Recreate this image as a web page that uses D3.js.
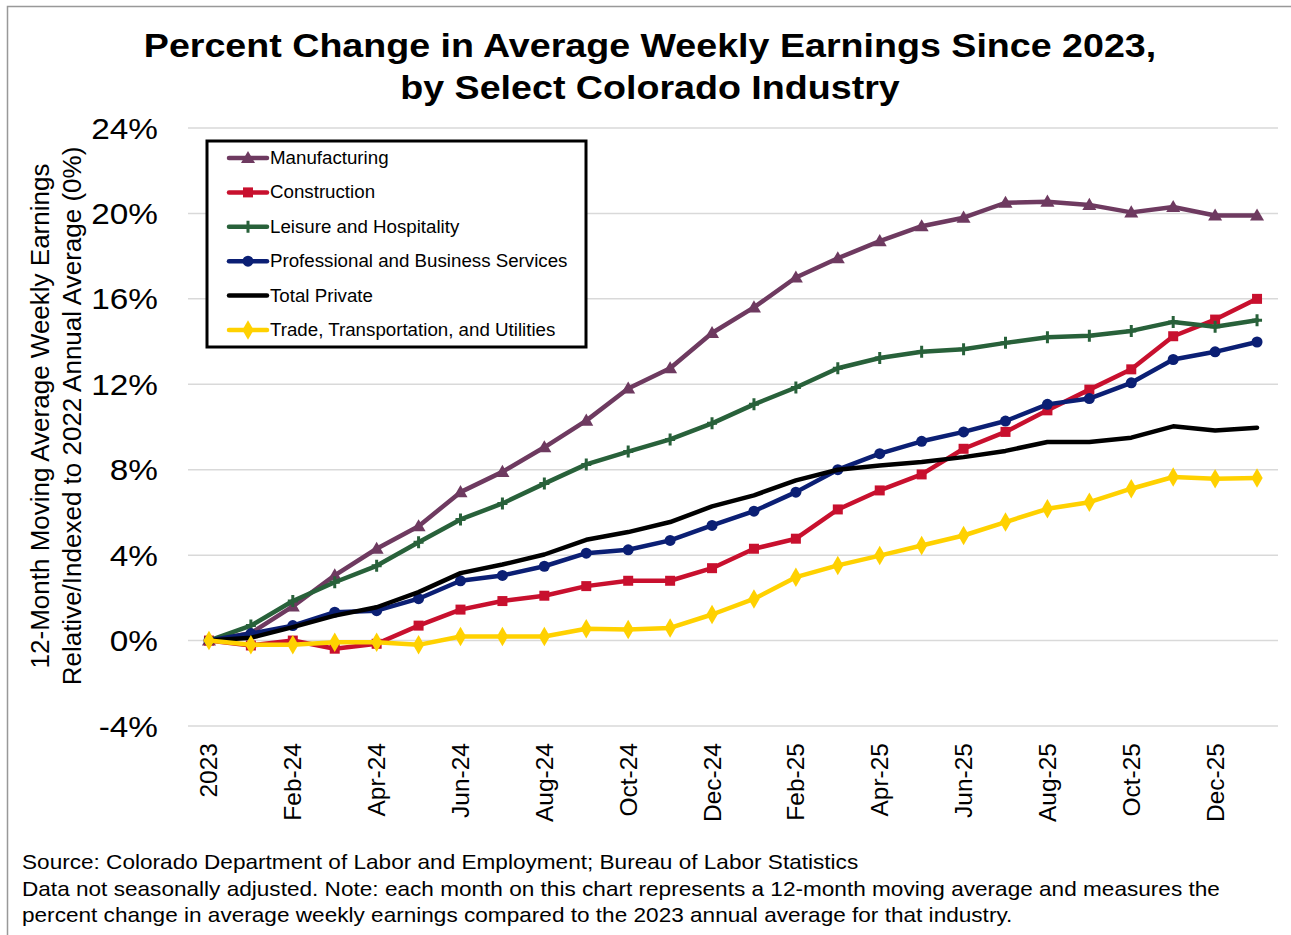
<!DOCTYPE html>
<html>
<head>
<meta charset="utf-8">
<script src="https://cdn.jsdelivr.net/npm/d3@7"></script>
<style>
  body { margin: 0; background: #fff; }
  text { font-family: "Liberation Sans", Arial, sans-serif; fill: #000; }
</style>
</head>
<body>
<svg id="chart" width="1291" height="935"></svg>
<script>
// categories: 2023 annual average, then monthly Jan-24 .. Jan-26
var months = ["2023",
  "Jan-24","Feb-24","Mar-24","Apr-24","May-24","Jun-24","Jul-24","Aug-24","Sep-24","Oct-24","Nov-24","Dec-24",
  "Jan-25","Feb-25","Mar-25","Apr-25","May-25","Jun-25","Jul-25","Aug-25","Sep-25","Oct-25","Nov-25","Dec-25",
  "Jan-26"];
var yTicks = [-4, 0, 4, 8, 12, 16, 20, 24];

// percent change per series
var manufacturing = [0, 0.35, 1.6, 3.05, 4.3, 5.35, 6.95, 7.9, 9.05, 10.3, 11.8, 12.75, 14.4,
  15.6, 17.0, 17.9, 18.7, 19.4, 19.8, 20.5, 20.55, 20.4, 20.05, 20.3, 19.9, 19.9];
var construction = [0, -0.23, 0.0, -0.38, -0.15, 0.7, 1.45, 1.85, 2.1, 2.55, 2.8, 2.8, 3.39,
  4.3, 4.77, 6.14, 7.03, 7.78, 8.98, 9.77, 10.78, 11.75, 12.7, 14.25, 15.03, 16.0];
var leisure = [0, 0.7, 1.85, 2.73, 3.5, 4.6, 5.67, 6.42, 7.35, 8.25, 8.85, 9.42, 10.17,
  11.06, 11.85, 12.75, 13.23, 13.52, 13.64, 13.94, 14.2, 14.27, 14.5, 14.92, 14.69, 15.0];
var professional = [0, 0.33, 0.7, 1.33, 1.4, 1.96, 2.8, 3.05, 3.48, 4.09, 4.25, 4.69, 5.39,
  6.06, 6.95, 8.0, 8.75, 9.33, 9.77, 10.28, 11.06, 11.33, 12.07, 13.16, 13.52, 13.98];
var totalPrivate = [0, 0.13, 0.63, 1.17, 1.56, 2.27, 3.16, 3.56, 4.03, 4.72, 5.08, 5.55, 6.28,
  6.8, 7.5, 8.0, 8.2, 8.36, 8.59, 8.88, 9.3, 9.3, 9.5, 10.03, 9.84, 9.97];
var trade = [0, -0.2, -0.2, -0.08, -0.08, -0.2, 0.19, 0.19, 0.19, 0.55, 0.52, 0.59, 1.22,
  1.95, 2.97, 3.52, 3.98, 4.45, 4.92, 5.55, 6.17, 6.48, 7.11, 7.66, 7.58, 7.61];

var seriesNames = ["Manufacturing", "Construction", "Leisure and Hospitality",
  "Professional and Business Services", "Total Private", "Trade, Transportation, and Utilities"];
var seriesValues = [manufacturing, construction, leisure, professional, totalPrivate, trade];
var seriesColors = ["#6e3a60", "#c8102e", "#28613a", "#0b1f74", "#000000", "#ffd100"];
var seriesMarkers = ["triangle", "square", "plus", "circle", "none", "diamond"];

var svg = d3.select("#chart");

// the original text is a bit wider than plain Arial, so stretch it sideways
function wideText(parent, tx, ty, sx, size, anchor, str, weight) {
  return parent.append("text")
    .attr("transform", "translate(" + tx + "," + ty + ") scale(" + sx + ",1)")
    .attr("text-anchor", anchor || "start")
    .style("font-size", size + "px")
    .style("font-weight", weight || "normal")
    .text(str);
}

// thin frame of the picture
svg.append("path")
  .attr("d", "M7.5,935 V6.5 H1291")
  .attr("fill", "none").attr("stroke", "#999").attr("stroke-width", 1.5);

var plot = {left: 188, right: 1278, top: 128, bottom: 726};

var x = d3.scalePoint().domain(months).range([plot.left, plot.right]).padding(0.5);
var y = d3.scaleLinear().domain([-4, 24]).range([plot.bottom, plot.top]);

// title
wideText(svg, 650, 57, 1.14, 33, "middle", "Percent Change in Average Weekly Earnings Since 2023,", "bold");
wideText(svg, 650, 99, 1.14, 33, "middle", "by Select Colorado Industry", "bold");

// gridlines
svg.append("g").selectAll("line").data(yTicks).enter().append("line")
  .attr("x1", plot.left).attr("x2", plot.right)
  .attr("y1", d => y(d)).attr("y2", d => y(d))
  .attr("stroke", "#d9d9d9").attr("stroke-width", 1.5);

// y tick labels
var yl = svg.append("g");
yTicks.forEach(function(t) {
  wideText(yl, 158, y(t) + 10.5, 1.15, 29, "end", t + "%");
});

// y axis title
var yt = svg.append("g").attr("transform", "translate(57,416) rotate(-90)");
yt.append("text").attr("x", 0).attr("y", -8).attr("text-anchor", "middle")
  .style("font-size", "26px").text("12-Month Moving Average Weekly Earnings");
yt.append("text").attr("x", 0).attr("y", 24).attr("text-anchor", "middle")
  .style("font-size", "26px").text("Relative/Indexed to 2022 Annual Average (0%)");

// x tick labels, every other month
svg.append("g").selectAll("text").data(months.filter((d, i) => i % 2 == 0 && i < 25)).enter()
  .append("text")
  .attr("transform", d => "translate(" + (x(d) + 8.5) + ",743) rotate(-90)")
  .attr("text-anchor", "end")
  .style("font-size", "24.5px")
  .text(d => d);

var symbolFor = {
  triangle: d3.symbol().type(d3.symbolTriangle).size(85),
  square: d3.symbol().type(d3.symbolSquare).size(100),
  circle: d3.symbol().type(d3.symbolCircle).size(95),
  diamond: d3.symbol().type(d3.symbolDiamond).size(110)
};

function drawMarker(g, kind, color, cx, cy) {
  if (kind == "none") return;
  if (kind == "plus") {
    g.append("path")
      .attr("d", "M" + (cx - 5) + "," + cy + "H" + (cx + 5) + "M" + cx + "," + (cy - 6) + "V" + (cy + 6))
      .attr("stroke", color).attr("stroke-width", 3).attr("fill", "none");
    return;
  }
  g.append("path").attr("d", symbolFor[kind]())
    .attr("transform", "translate(" + cx + "," + (kind == "triangle" ? cy + 1 : cy) + ")")
    .attr("fill", color);
}

var line = d3.line().x((d, i) => x(months[i])).y(d => y(d));

seriesValues.forEach(function(vals, s) {
  var g = svg.append("g");
  g.append("path").datum(vals).attr("d", line)
    .attr("fill", "none").attr("stroke", seriesColors[s])
    .attr("stroke-width", 4.5).attr("stroke-linejoin", "round").attr("stroke-linecap", "round");
  vals.forEach(function(v, i) {
    drawMarker(g, seriesMarkers[s], seriesColors[s], x(months[i]), y(v));
  });
});

// legend
var lg = svg.append("g");
lg.append("rect").attr("x", 207).attr("y", 141).attr("width", 379).attr("height", 206)
  .attr("fill", "#fff").attr("stroke", "#000").attr("stroke-width", 3);
seriesNames.forEach(function(name, s) {
  var cy = 158 + s * 34.4;
  lg.append("line").attr("x1", 229).attr("x2", 267).attr("y1", cy).attr("y2", cy)
    .attr("stroke", seriesColors[s]).attr("stroke-width", 4.5).attr("stroke-linecap", "round");
  drawMarker(lg, seriesMarkers[s], seriesColors[s], 248, cy);
  wideText(lg, 270, cy + 6, 1.07, 17.5, "start", name);
});

// footer
var notes = ["Source: Colorado Department of Labor and Employment; Bureau of Labor Statistics",
  "Data not seasonally adjusted. Note: each month on this chart represents a 12-month moving average and measures the",
  "percent change in average weekly earnings compared to the 2023 annual average for that industry."];
var ft = svg.append("g");
notes.forEach(function(n, i) {
  wideText(ft, 22, 869 + i * 26.5, 1.13, 20, "start", n);
});
</script>
</body>
</html>
